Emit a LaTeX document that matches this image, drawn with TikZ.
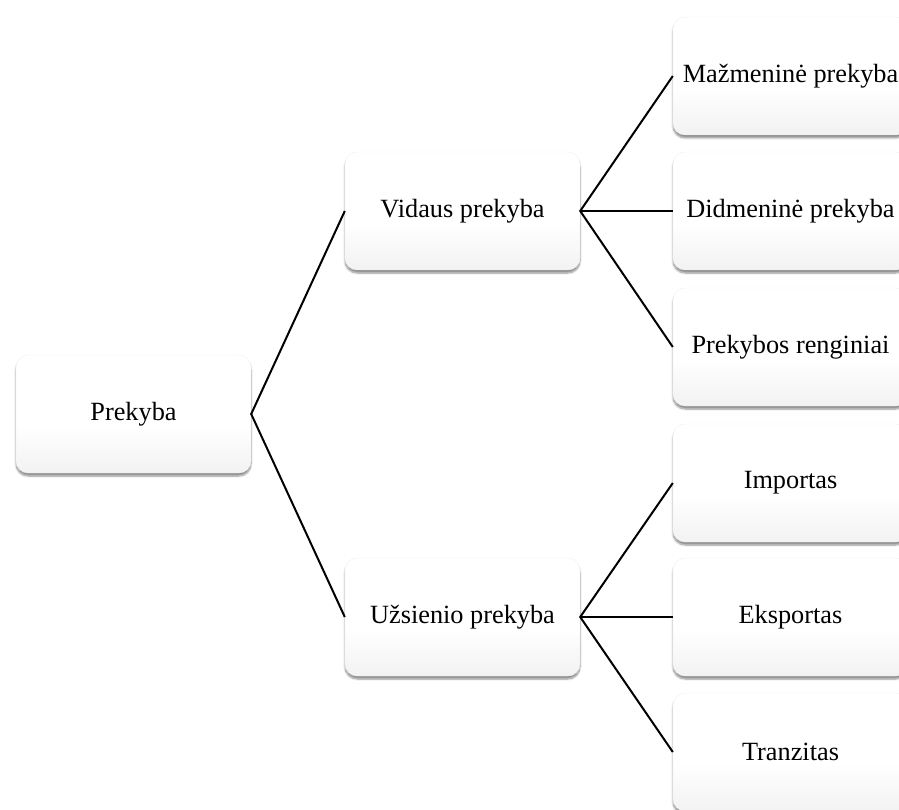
\documentclass[tikz,border=0pt]{standalone}
\usepackage{fontspec}
\setmainfont{Liberation Serif}
\usetikzlibrary{shadows.blur}
\definecolor{boxgray}{HTML}{E2E2E2}
\pgfdeclareverticalshading{boxshade}{100bp}{color(0bp)=(boxgray); color(45bp)=(white); color(100bp)=(white)}
\tikzset{
  item/.style={rectangle, rounded corners=12pt, minimum width=235pt, minimum height=118pt,
    shading=boxshade, draw=gray!12, line width=0.4pt,
    blur shadow={shadow xshift=0pt, shadow yshift=-3pt, shadow blur steps=6, shadow opacity=45},
    font=\fontsize{26.3}{30}\selectfont, inner sep=0pt},
  link/.style={draw=black, line width=2pt}
}
\begin{document}
\begin{tikzpicture}[x=1pt, y=-1pt]
  \useasboundingbox (0,0) rectangle (899,810);
  \clip (0,0) rectangle (899,810);
  % root
  \node[item] (root) at (133.5,414) {Prekyba};
  % second level
  \node[item] (inner) at (462.5,211) {Vidaus prekyba};
  \node[item] (outer) at (462.5,617) {Užsienio prekyba};
  % third level, domestic trade
  \node[item] (retail)    at (790.5,76)  {Mažmeninė prekyba};
  \node[item] (wholesale) at (790.5,211) {Didmeninė prekyba};
  \node[item] (events)    at (790.5,347) {Prekybos renginiai};
  % third level, foreign trade
  \node[item] (import)  at (790.5,483) {Importas};
  \node[item] (export)  at (790.5,617) {Eksportas};
  \node[item] (transit) at (790.5,752) {Tranzitas};
  % connectors
  \draw[link] (inner.west) -- (root.east) -- (outer.west);
  \draw[link] (retail.west) -- (inner.east) -- (events.west);
  \draw[link] (inner.east) -- (wholesale.west);
  \draw[link] (import.west) -- (outer.east) -- (transit.west);
  \draw[link] (outer.east) -- (export.west);
\end{tikzpicture}
\end{document}
